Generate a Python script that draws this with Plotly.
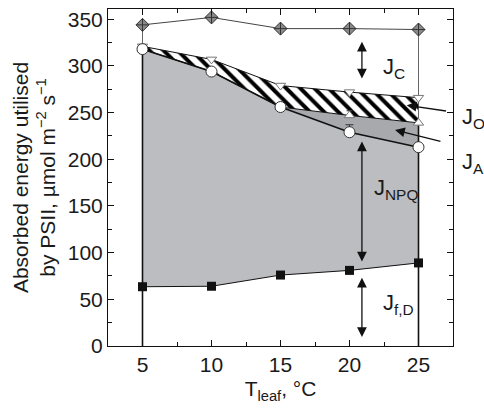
import plotly.graph_objects as go

# ---- data ----
T = [5, 10, 15, 20, 25]                      # leaf temperature, °C
J_total = [344, 352, 340, 340, 339]          # diamonds (total absorbed)
J_O_top = [321, 307, 279, 272, 266]          # down triangles
J_A_top = [318, 294, 256, 247, 239]          # up triangles
J_P = [318, 294, 256, 229, 213]              # circles
J_fD = [63.5, 64, 76, 81, 89]                # squares
J_P_err = [0, 0, 0, 8, 0]
J_A_err = [0, 0, 0, 5, 0]
x_ticks = [5, 10, 15, 20, 25]
y_ticks = [0, 50, 100, 150, 200, 250, 300, 350]

FONT = "Liberation Sans, Arial, Helvetica, sans-serif"
LIGHT = "#bcbdc1"
DARK = "#a8a9ad"
TXT = "#1a1a1a"

fig = go.Figure()

# ---- filled bands ----
fig.add_trace(go.Scatter(x=T, y=J_fD, mode="lines", line=dict(width=0),
                         hoverinfo="skip", showlegend=False))
fig.add_trace(go.Scatter(x=T, y=J_P, mode="lines", line=dict(width=0),
                         fill="tonexty", fillcolor=LIGHT,
                         hoverinfo="skip", showlegend=False))
fig.add_trace(go.Scatter(x=T, y=J_A_top, mode="lines", line=dict(width=0),
                         fill="tonexty", fillcolor=DARK,
                         hoverinfo="skip", showlegend=False))
fig.add_trace(go.Scatter(x=T, y=J_O_top, mode="lines", line=dict(width=0),
                         fill="tonexty", fillcolor="white",
                         fillpattern=dict(shape="\\", fgcolor="black", bgcolor="white",
                                          fgopacity=1, size=10, solidity=0.4),
                         hoverinfo="skip", showlegend=False))

# ---- vertical edge lines at first and last temperature ----
for i in (0, len(T) - 1):
    fig.add_trace(go.Scatter(x=[T[i], T[i]], y=[0, J_A_top[i]], mode="lines",
                             line=dict(color="#111", width=1.6),
                             hoverinfo="skip", showlegend=False))
    fig.add_trace(go.Scatter(x=[T[i], T[i]], y=[J_A_top[i], J_total[i]], mode="lines",
                             line=dict(color="#666", width=1),
                             hoverinfo="skip", showlegend=False))

# ---- lines with markers ----
fig.add_trace(go.Scatter(x=T, y=J_total, mode="lines+markers",
                         line=dict(color="#444", width=1),
                         marker=dict(symbol="diamond-cross", size=10, color="#8a8a8a",
                                     line=dict(color="#333", width=1)),
                         showlegend=False))
fig.add_trace(go.Scatter(x=T, y=J_O_top, mode="lines+markers",
                         line=dict(color="#111", width=1),
                         marker=dict(symbol="triangle-down", size=9, color="white",
                                     line=dict(color="#777", width=1)),
                         showlegend=False))
fig.add_trace(go.Scatter(x=T, y=J_A_top, mode="lines+markers",
                         line=dict(color="#111", width=1),
                         marker=dict(symbol="triangle-up", size=9, color="white",
                                     line=dict(color="#777", width=1)),
                         error_y=dict(type="data", array=J_A_err, arrayminus=[0] * 5,
                                      symmetric=False, color="#444", width=3, thickness=1),
                         showlegend=False))
fig.add_trace(go.Scatter(x=T, y=J_P, mode="lines+markers",
                         line=dict(color="#111", width=1.6),
                         marker=dict(symbol="circle", size=11, color="white",
                                     line=dict(color="#333", width=1)),
                         error_y=dict(type="data", array=J_P_err, arrayminus=[0] * 5,
                                      symmetric=False, color="#333", width=4, thickness=1),
                         showlegend=False))
fig.add_trace(go.Scatter(x=T, y=J_fD, mode="lines+markers",
                         line=dict(color="#111", width=1),
                         marker=dict(symbol="square", size=9, color="#111",
                                     line=dict(color="#111", width=0)),
                         showlegend=False))

# ---- arrows and labels ----
ann = []

def arrow(x, y, ax, ay, both=False):
    ann.append(dict(x=x, y=y, ax=ax, ay=ay, xref="x", yref="y", axref="x", ayref="y",
                    text="", showarrow=True, arrowhead=2, arrowsize=1.5, arrowwidth=1.3,
                    arrowcolor="#111", arrowside="end+start" if both else "end",
                    standoff=0, startstandoff=0))

arrow(20.9, 326, 20.9, 285, both=True)   # J_C
arrow(20.9, 219, 20.9, 89, both=True)    # J_NPQ
arrow(20.9, 73, 20.9, 8, both=True)      # J_f,D
arrow(24.15, 258, 27.1, 251.5)           # J_O pointer
arrow(23.3, 231.5, 26.7, 218.7)          # J_A pointer

def label(x, y, txt, xref="x"):
    ann.append(dict(x=x, y=y, xref=xref, yref="y", text=txt, showarrow=False,
                    font=dict(family=FONT, size=22, color=TXT), xanchor="left"))

label(22.3, 298, "J<sub>C</sub>")
label(21.6, 168, "J<sub>NPQ</sub>")
label(22.3, 45, "J<sub>f,D</sub>")
label(1.02, 244, "J<sub>O</sub>", xref="paper")
label(1.02, 196, "J<sub>A</sub>", xref="paper")

fig.update_layout(
    width=484, height=409,
    margin=dict(l=108, r=31, t=9, b=63),
    plot_bgcolor="white", paper_bgcolor="white",
    font=dict(family=FONT, size=21, color=TXT),
    annotations=ann,
    showlegend=False,
)
fig.update_xaxes(range=[2.5, 27.5], tickvals=x_ticks, ticks="inside", ticklen=6,
                 tickcolor="#111", showline=True, linecolor="#111", linewidth=1,
                 mirror="ticks", showgrid=False, zeroline=False,
                 minor=dict(dtick=2.5, tick0=2.5, ticks="inside", ticklen=4,
                            tickcolor="#111", showgrid=False),
                 tickfont=dict(size=21, color=TXT),
                 title=dict(text="T<sub>leaf</sub>, °C", font=dict(size=21, color=TXT),
                            standoff=6))
fig.update_yaxes(range=[0, 361], tickvals=y_ticks, ticks="inside", ticklen=6,
                 tickcolor="#111", showline=True, linecolor="#111", linewidth=1,
                 mirror="ticks", showgrid=False, zeroline=False,
                 minor=dict(dtick=25, tick0=0, ticks="inside", ticklen=4,
                            tickcolor="#111", showgrid=False),
                 tickfont=dict(size=21, color=TXT),
                 title=dict(text="Absorbed energy utilised<br>by PSII, µmol m<sup>−2</sup> s<sup>−1</sup>",
                            font=dict(size=21, color=TXT), standoff=6))

fig.write_html("out.html")
